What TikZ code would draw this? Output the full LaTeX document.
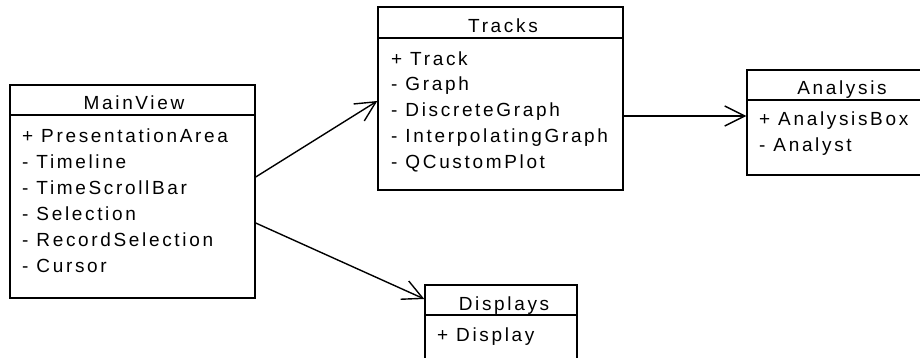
\documentclass[tikz,border=0pt]{standalone}
\usepackage{fontspec}
\setmainfont{Liberation Sans}[LetterSpace=14]
\usetikzlibrary{arrows.meta}

\begin{document}
\begin{tikzpicture}[x=1pt,y=-1pt,
	classbox/.style={draw, line width=1.4pt, inner sep=0pt},
	classname/.style={anchor=base, inner sep=0pt, font=\fontsize{19}{26}\selectfont},
	members/.style={anchor=base west, inner sep=0pt, align=left, font=\fontsize{19}{26}\selectfont},
	assoc/.style={line width=1.4pt, -{Straight Barb[length=20pt,width=20pt]}}]
			%%%%% START %%%%%
			
			\useasboundingbox (0,0) rectangle (920,358);
			\clip (0,0) rectangle (920,358);
			
			% MainView (members placed by the baseline of their last line)
			\node[classbox, minimum width=245pt, minimum height=213pt] (mainview) at (132.5,191.5) {};
			\draw[line width=1.4pt] (mainview.west |- 0,115) -- (mainview.east |- 0,115);
			\node[classname] (mainviewname) at (134,110) {MainView};
			\node[members] (mainviewlist) at (22,272.7) {+ PresentationArea\\- Timeline\\- TimeScrollBar\\- Selection\\- RecordSelection\\- Cursor};
			
			% Tracks
			\node[classbox, minimum width=245pt, minimum height=183pt] (tracks) at (500.5,98.5) {};
			\draw[line width=1.4pt] (tracks.west |- 0,38) -- (tracks.east |- 0,38);
			\node[classname] (tracksname) at (503,33) {Tracks};
			\node[members] (trackslist) at (391,169) {+ Track\\- Graph\\- DiscreteGraph\\- InterpolatingGraph\\- QCustomPlot};
			
			% Analysis
			\node[classbox, minimum width=183pt, minimum height=105pt] (analysis) at (838.5,122.5) {};
			\draw[line width=1.4pt] (analysis.west |- 0,100) -- (analysis.east |- 0,100);
			\node[classname] (analysisname) at (842,95) {Analysis};
			\node[members] (analysislist) at (759,152) {+ AnalysisBox\\- Analyst};
			
			% Displays
			\node[classbox, minimum width=152pt, minimum height=105pt] (displays) at (501,337.5) {};
			\draw[line width=1.4pt] (displays.west |- 0,315) -- (displays.east |- 0,315);
			\node[classname] (displaysname) at (504,310) {Displays};
			\node[members] (displayslist) at (437,341.7) {+ Display};
			
			\draw[assoc] (mainview.east |- 0,177) -- (tracks.west |- 0,101);
			\draw[assoc] (mainview.east |- 0,223) -- (displays.west |- 0,299);
			\draw[assoc] (tracks.east |- 0,116) -- (analysis.west |- 0,116);
			
			%%%%% END %%%%%
		\end{tikzpicture}
\end{document}
